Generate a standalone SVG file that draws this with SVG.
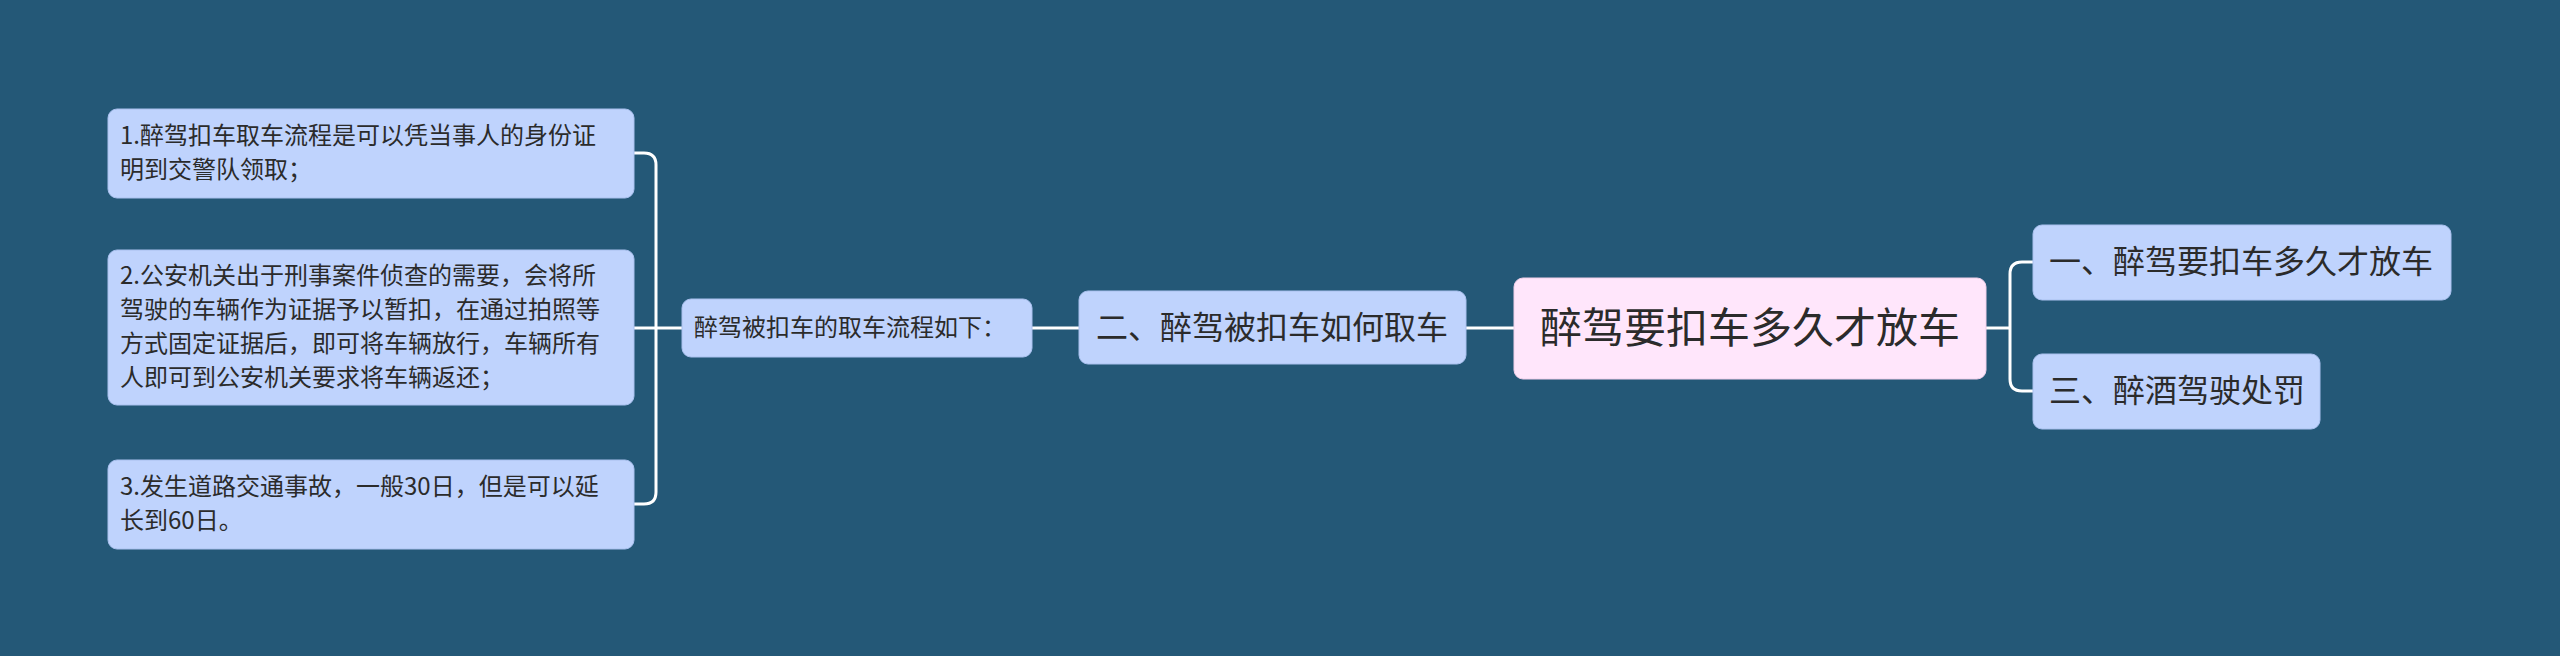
<svg xmlns="http://www.w3.org/2000/svg" width="2560" height="656" viewBox="0 0 2560 656">
<style>
.n{fill:#bfd3fd;stroke:#a9c0ee;stroke-width:1}
.r{fill:#ffe6fb;stroke:#f0d0ea;stroke-width:1}
text{font-family:"Noto Sans CJK SC","Noto Sans",sans-serif;fill:#2b2b2b}
.c{fill:none;stroke:#ffffff;stroke-width:3}
</style>
<rect width="2560" height="656" fill="#245877"/>
<g id="connectors">
<path class="c" d="M1514 328H1466"/>
<path class="c" d="M1079 328H1032"/>
<path class="c" d="M682 328H656"/>
<path class="c" d="M634 153H644Q656 153 656 165V492Q656 504 644 504H634"/>
<path class="c" d="M634 328H656"/>
<path class="c" d="M1986 328H2010"/>
<path class="c" d="M2033 262H2022Q2010 262 2010 274V379Q2010 391 2022 391H2033"/>
</g>
<g id="root"><rect class="r" x="1514" y="278" width="472" height="101" rx="9"/><text x="1750" y="343" font-size="42" text-anchor="middle">醉驾要扣车多久才放车</text></g>
<g id="n1"><rect class="n" x="2033" y="225" width="418" height="75" rx="9"/><text x="2049" y="273" font-size="32">一、醉驾要扣车多久才放车</text></g>
<g id="n3"><rect class="n" x="2033" y="354" width="287" height="75" rx="9"/><text x="2049" y="402" font-size="32">三、醉酒驾驶处罚</text></g>
<g id="n2"><rect class="n" x="1079" y="291" width="387" height="73" rx="9"/><text x="1272" y="339" font-size="32" text-anchor="middle">二、醉驾被扣车如何取车</text></g>
<g id="sub"><rect class="n" x="682" y="299" width="350" height="58" rx="9"/><text x="694" y="336" font-size="24">醉驾被扣车的取车流程如下：</text></g>
<g id="leaf1"><rect class="n" x="108" y="109" width="526" height="89" rx="9"/><text font-size="24"><tspan x="120" y="144">1.醉驾扣车取车流程是可以凭当事人的身份证</tspan><tspan x="120" y="178">明到交警队领取；</tspan></text></g>
<g id="leaf2"><rect class="n" x="108" y="250" width="526" height="155" rx="9"/><text font-size="24"><tspan x="120" y="284">2.公安机关出于刑事案件侦查的需要，会将所</tspan><tspan x="120" y="318">驾驶的车辆作为证据予以暂扣，在通过拍照等</tspan><tspan x="120" y="352">方式固定证据后，即可将车辆放行，车辆所有</tspan><tspan x="120" y="386">人即可到公安机关要求将车辆返还；</tspan></text></g>
<g id="leaf3"><rect class="n" x="108" y="460" width="526" height="89" rx="9"/><text font-size="24"><tspan x="120" y="495">3.发生道路交通事故，一般30日，但是可以延</tspan><tspan x="120" y="529">长到60日。</tspan></text></g>
</svg>
